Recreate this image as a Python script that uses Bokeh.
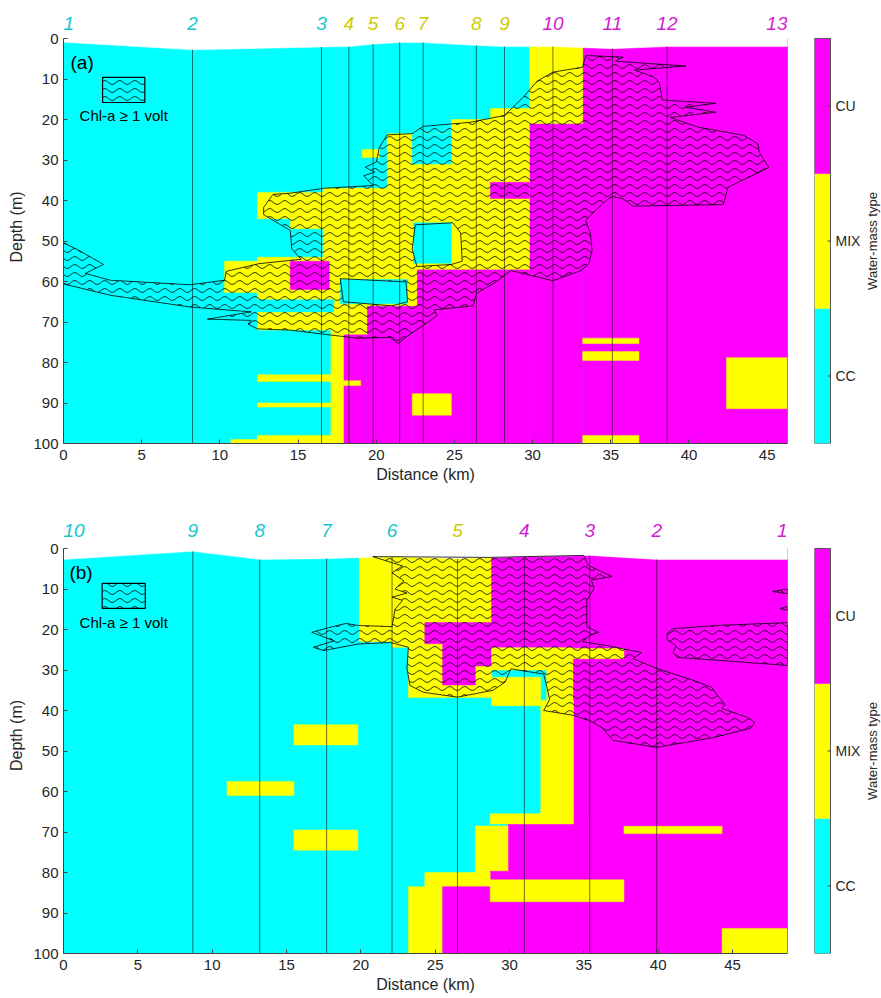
import numpy as np
from bokeh.plotting import figure
from bokeh.layouts import column, row
from bokeh.models import Range1d, FixedTicker, ColumnDataSource
from bokeh.core.properties import value
from bokeh.embed import file_html
from bokeh.resources import INLINE

FONT = "Liberation Sans"
TXT = "#262626"
WM_COLORS = ["#00FFFF", "#FFFF00", "#FF00FF"]       # CC, MIX, CU
WM_NAMES = ["CC", "MIX", "CU"]
LABEL_COLORS = ["#16C6CF", "#CFCB00", "#D21BD2"]

# ---------------- Panel (a) ----------------
A_XMAX = 46.3
A_STN_LAB = ["1", "2", "3", "4", "5", "6", "7", "8", "9", "10", "11", "12", "13"]
A_STN_KM = [0, 8.25, 16.5, 18.25, 19.8, 21.5, 23.0, 26.4, 28.2, 31.3, 35.1, 38.6, 46.3]
A_STN_TOP = [0.9, 2.8, 2.1, 2.0, 1.4, 1.0, 1.0, 1.7, 2.0, 2.0, 2.5, 2.0, 2.0]
A_STN_WM = [0, 0, 0, 1, 1, 1, 1, 1, 1, 2, 2, 2, 2]

# water-mass cells (distance km from/to, depth m from/to, type); later cells drawn on top
A_X0 = [0, 17.9, 19.4, 22.3, 29.8, 33.2, 29.8, 24.8, 27.3, 27.3, 20.7, 22.3, 22.4, 19.1, 14.5, 12.4,
        16.6, 10.3, 12.4, 12.4, 14.5, 17.9, 17.7, 17.3, 17.1, 12.4, 17.9, 12.4, 12.4, 10.7, 22.3,
        33.2, 33.2, 33.2, 42.4]
A_X1 = [46.3, 19.4, 22.3, 29.8, 33.2, 46.3, 33.2, 27.3, 29.8, 29.8, 24.8, 24.8, 24.8, 20.2, 16.6, 14.5,
        20.7, 12.4, 17.9, 17.3, 17.0, 22.6, 22.0, 19.4, 17.9, 17.1, 19.0, 17.1, 17.1, 12.4, 24.8,
        36.8, 36.8, 36.8, 46.3]
A_D0 = [0, 73, 66, 57, 21, 0, 0, 20, 17.3, 35.5, 23.5, 23.5, 45.5, 27.4, 38, 38,
        37, 55, 54, 64.5, 55, 57, 59.5, 66, 72, 83, 84.5, 90, 98, 99, 87.7,
        74, 77.3, 98, 78.8]
A_D1 = [100, 100, 100, 100, 100, 100, 21, 57, 57, 39.5, 57, 31, 55.5, 29.4, 47, 44.5,
        57, 62.7, 72, 67.5, 62, 66, 65.5, 73, 100, 84.7, 85.7, 91, 100, 100, 93,
        75.3, 79.5, 100, 91.4]
A_WM = [0, 2, 2, 2, 2, 2, 1, 1, 1, 2, 1, 0, 0, 1, 1, 1,
        1, 1, 1, 0, 2, 1, 0, 1, 1, 1, 1, 1, 1, 1, 1,
        1, 1, 1, 1]

# Chl-a >= 1 volt contour (outer ring + holes)
A_CHL_KM = [0, 1.07, 2.56, 1.4, 3.0, 8.1, 10.3, 10.4, 12.5, 15.2,
            14.6, 14.5, 12.8, 12.8, 13.4, 14.5, 16.6, 19.8, 19.2, 19.9, 19.3, 20.0, 20.2, 20.7, 22.3,
            23.0, 26.0, 28.2, 29.4, 30.3, 31.3, 33.2,
            33.4, 35.8, 35.3, 39.8, 36.5, 37.7, 38.1, 38.3, 41.7, 39.8, 41.7, 38.8, 40.6, 43.5, 44.4,
            44.5, 45.1, 44.7, 42.5, 42.2, 36.4, 35.8, 35.1, 34.7, 33.8, 33.4, 33.7, 33.8, 33.6, 33.1,
            31.3, 28.6, 27.7, 26.4, 26.2, 23.7, 23.9, 22.0, 21.4, 20.9, 18.8, 16.6, 14.5, 12.4, 11.8,
            12.0, 9.2, 12.0, 8.1, 3.0, 0]
A_CHL_DEPTH = [50.4, 52.5, 55.8, 58.0, 59.7, 60.8, 59.7, 57.5, 55.6, 54.5,
               52.0, 47.4, 43.5, 41.7, 38.5, 38.2, 37.0, 36.3, 33.9, 33.0, 31.8, 30.5, 26.9, 23.8, 23.5,
               21.7, 20.7, 19.0, 14.5, 10.5, 8.3, 7.1,
               4.2, 4.6, 5.6, 6.8, 7.8, 9.4, 10.8, 15.2, 16.0, 17.0, 18.2, 19.5, 21.9, 23.9, 26.0,
               28.1, 31.8, 32.6, 36.7, 41.0, 41.4, 39.6, 39.0, 40.0, 43.3, 45.0, 48.2, 52.3, 55.6, 57.3,
               59.8, 57.3, 60.0, 63.0, 66.0, 67.0, 68.4, 73.5, 75.3, 73.8, 74.0, 73.0, 72.0, 71.7, 70.5,
               69.6, 69.3, 67.5, 66.3, 63.4, 60.6]
A_HOLE1_KM = [17.7, 21.9, 22.0, 21.0, 17.9]
A_HOLE1_DEPTH = [59.3, 60.1, 65.0, 66.0, 65.0]
A_HOLE2_KM = [22.5, 24.9, 25.4, 25.5, 24.8, 22.6, 22.3]
A_HOLE2_DEPTH = [46.0, 45.5, 48.0, 55.0, 55.8, 56.3, 52.0]

# ---------------- Panel (b) ----------------
B_XMAX = 48.7
B_STN_LAB = ["10", "9", "8", "7", "6", "5", "4", "3", "2", "1"]
B_STN_KM = [0, 8.7, 13.2, 17.7, 22.1, 26.5, 31.0, 35.4, 39.9, 48.7]
B_STN_TOP = [2.7, 0.7, 2.7, 2.5, 2.0, 2.5, 2.0, 1.7, 2.7, 2.7]
B_STN_WM = [0, 0, 0, 0, 0, 1, 2, 2, 2, 2]

B_X0 = [0, 19.9, 22.1, 23.2, 28.8, 35.4, 24.3, 25.5, 25.5, 28.8, 32.5, 34.3, 34.3, 28.8, 32.1,
        29.9, 28.7, 27.7, 28.7, 24.3, 23.2, 25.5, 28.7,
        15.5, 11.0, 15.5, 37.7, 44.3]
B_X1 = [48.7, 22.1, 23.2, 28.8, 35.4, 48.7, 28.8, 28.8, 27.7, 32.5, 34.3, 35.4, 37.7, 32.1, 34.3,
        35.4, 34.3, 29.9, 29.9, 28.7, 25.5, 35.4, 37.7,
        19.8, 15.5, 19.8, 44.3, 48.7]
B_D0 = [0, 0, 0, 0, 0, 0, 18.3, 23.5, 29, 24.5, 24.5, 24.5, 24.7, 31.8, 37.5,
        66, 65.5, 68.5, 79.7, 80, 83.5, 83.5, 81.8,
        43.5, 57.5, 69.5, 68.6, 93.8]
B_D1 = [100, 23, 24.4, 36.8, 24.5, 100, 23.5, 29, 33.7, 30, 37.5, 100, 27.2, 38.8, 66,
        100, 68, 80, 82.5, 83.5, 100, 100, 87.2,
        48.5, 61, 74.5, 70.4, 100]
B_WM = [0, 1, 1, 1, 2, 2, 2, 2, 2, 1, 1, 2, 1, 1, 1,
        2, 1, 1, 2, 1, 1, 2, 1,
        1, 1, 1, 1, 1]

B_CHL1_KM = [16.7, 17.8, 19.0, 19.8, 22.1, 22.3, 22.8, 22.1, 23.1, 22.3, 22.9, 22.1, 22.8, 20.8,
             28.7, 35.0, 35.3, 36.9, 35.5, 35.7, 35.2, 35.2, 36.0, 35.4, 34.9, 36.6, 38.9, 38.3,
             39.9, 42.4, 43.6, 44.1, 44.5, 44.3, 46.0, 46.5, 46.2, 43.7, 39.9, 37.0, 36.2, 35.4,
             34.3, 32.3, 32.7, 32.5, 32.3, 30.9, 30.1, 29.7, 28.9, 26.5, 24.2, 23.3, 23.1, 23.2,
             22.0, 19.8, 17.5, 16.8, 18.2]
B_CHL1_DEPTH = [20.7, 19.6, 18.5, 19.0, 19.3, 15.0, 12.8, 12.0, 11.0, 10.0, 8.0, 6.0, 4.3, 2.0,
                2.2, 1.7, 4.2, 6.9, 7.8, 9.8, 12.8, 19.3, 20.7, 21.5, 23.0, 24.0, 25.7, 27.2,
                29.6, 32.6, 34.3, 36.8, 38.5, 39.5, 41.7, 43.0, 44.4, 46.7, 49.1, 47.4, 44.2, 42.5,
                41.2, 40.0, 37.3, 34.0, 31.0, 30.2, 29.7, 33.0, 35.0, 36.7, 35.5, 33.8, 29.5, 24.4,
                23.2, 23.6, 25.2, 24.4, 22.8]
B_CHL2_KM = [40.6, 41.0, 44.0, 48.7, 48.7, 44.4, 41.3, 41.0, 41.2, 40.6]
B_CHL2_DEPTH = [21.0, 19.8, 19.0, 18.3, 28.9, 27.7, 26.9, 25.7, 24.0, 22.5]
B_CHL3_KM = [47.7, 48.7, 48.7]
B_CHL3_DEPTH = [10.6, 10.0, 11.2]
B_CHL4_KM = [48.2, 48.7, 48.7]
B_CHL4_DEPTH = [14.8, 14.3, 15.3]

X_TICKS = [0, 5, 10, 15, 20, 25, 30, 35, 40, 45]
Y_TICKS = [0, 10, 20, 30, 40, 50, 60, 70, 80, 90, 100]

# layout geometry (pixels)
FRAME_LEFT, FRAME_W = 63, 724
PX_PER_M = 4.05
WAVE_GAP, WAVE_LEN, WAVE_AMP = 8.0, 15.0, 1.9   # hatch look, in screen pixels


def in_rings(px, py, rings):
    """even-odd point-in-polygon test over several rings (outer + holes)"""
    inside = np.zeros(px.shape, bool)
    for vx, vy in rings:
        vx = np.asarray(vx, float)
        vy = np.asarray(vy, float)
        n = len(vx)
        for i in range(n):
            j = i - 1
            xi, yi, xj, yj = vx[i], vy[i], vx[j], vy[j]
            if yi == yj:
                continue
            cond = (yi > py) != (yj > py)
            xint = (xj - xi) * (py - yi) / (yj - yi) + xi
            inside ^= cond & (px < xint)
    return inside


def wave_hatch(rings_list, xmax):
    """wavy hatch lines clipped to the given polygons (each a list of rings in km/depth)"""
    kx = FRAME_W / xmax
    ky = PX_PER_M
    xs_px = np.arange(0, FRAME_W + 0.5, 0.5)
    xs_out, ys_out = [], []
    for rings in rings_list:
        allx = np.concatenate([np.asarray(r[0], float) for r in rings])
        ally = np.concatenate([np.asarray(r[1], float) for r in rings])
        x_lo, x_hi = allx.min() * kx, allx.max() * kx
        y_lo, y_hi = ally.min() * ky, ally.max() * ky
        sel = xs_px[(xs_px >= x_lo - 1) & (xs_px <= x_hi + 1)]
        k0 = int(np.floor(y_lo / WAVE_GAP)) - 1
        k1 = int(np.ceil(y_hi / WAVE_GAP)) + 1
        for k in range(k0, k1 + 1):
            ypx = 4 + k * WAVE_GAP + WAVE_AMP * np.sin(2 * np.pi * sel / WAVE_LEN)
            xkm = sel / kx
            dep = ypx / ky
            m = in_rings(xkm, dep, rings)
            if not m.any():
                continue
            idx = np.flatnonzero(np.diff(np.concatenate([[0], m.astype(int), [0]])))
            for s, e in zip(idx[::2], idx[1::2]):
                if e - s >= 2:
                    xs_out.append(list(np.round(xkm[s:e], 4)))
                    ys_out.append(list(np.round(dep[s:e], 3)))
    return xs_out, ys_out


def style_axes(p):
    for ax in (p.xaxis[0], p.yaxis[0]):
        ax.major_tick_in = 4
        ax.major_tick_out = 0
        ax.minor_tick_in = 0
        ax.minor_tick_out = 0
        ax.axis_line_color = "#444444"
        ax.major_tick_line_color = "#444444"
        ax.major_label_text_font = FONT
        ax.major_label_text_font_size = "15px"
        ax.major_label_text_color = TXT
        ax.axis_label_text_font = FONT
        ax.axis_label_text_font_size = "16px"
        ax.axis_label_text_font_style = "normal"
        ax.axis_label_text_color = TXT
    p.xaxis.ticker = FixedTicker(ticks=X_TICKS)
    p.yaxis.ticker = FixedTicker(ticks=Y_TICKS)
    p.yaxis.bounds = (0, 100)
    p.xaxis.major_label_standoff = 6
    p.xaxis.axis_label_standoff = 3
    p.yaxis.major_label_standoff = 5
    p.yaxis.axis_label_standoff = 5
    p.xaxis.axis_label = "Distance (km)"
    p.yaxis.axis_label = "Depth (m)"
    p.xgrid.visible = False
    p.ygrid.visible = False
    p.outline_line_color = None


def make_panel(xmax, x0, x1, d0, d1, wm, stn_km, stn_top, stn_lab, stn_wm, chl_polys,
               leg_box, leg_txt, tag, lab_depth, height, top, frame_h, bottom):
    top_depth = -(frame_h / PX_PER_M - 100.0)   # frame reaches above the surface for station numbers
    p = figure(width=797, height=height, x_range=Range1d(0, xmax), y_range=Range1d(100, top_depth),
               min_border_left=FRAME_LEFT, min_border_right=10, min_border_top=top,
               min_border_bottom=bottom, toolbar_location=None, tools="", output_backend="svg")
    style_axes(p)
    cols = [WM_COLORS[i] for i in wm]
    src = ColumnDataSource(dict(left=x0, right=x1, top=d0, bottom=d1, color=cols))
    p.quad(left="left", right="right", top="top", bottom="bottom", source=src,
           fill_color="color", line_color="color", line_width=0.5)
    # white above sea surface
    p.patch(x=list(stn_km) + [xmax, 0], y=list(stn_top) + [top_depth - 1, top_depth - 1],
            fill_color="white", line_color="white", line_width=0.5)
    # station lines
    p.segment(x0=stn_km, y0=stn_top, x1=stn_km, y1=[100] * len(stn_km), line_color="black",
              line_width=0.7, line_alpha=0.8)
    # chlorophyll region: wavy hatch + outline
    lb = leg_box
    box_ring = [([lb[0], lb[1], lb[1], lb[0]], [lb[2], lb[2], lb[3], lb[3]])]
    hx, hy = wave_hatch(chl_polys + [box_ring], xmax)
    p.multi_line(xs=hx, ys=hy, line_color="black", line_width=0.9)
    mp_xs = [[[list(r[0]) for r in rings]] for rings in chl_polys]
    mp_ys = [[[list(r[1]) for r in rings]] for rings in chl_polys]
    p.multi_polygons(xs=mp_xs, ys=mp_ys, fill_color=None, line_color="black", line_width=0.8)
    # legend swatch
    p.quad(left=[lb[0]], right=[lb[1]], top=[lb[2]], bottom=[lb[3]],
           fill_color=None, line_color="black", line_width=1.2)
    p.text(x=[leg_txt[0]], y=[leg_txt[1]], text=["Chl-a \u2265 1 volt"], text_font=value(FONT),
           text_font_size="15px", text_color="black", text_align="center", text_baseline="middle")
    p.text(x=[tag[0]], y=[tag[1]], text=[tag[2]], text_font=value(FONT), text_font_size="19px",
           text_color="black", text_align="left", text_baseline="top")
    # station numbers (edge stations aligned inward so they stay inside the frame)
    n = len(stn_km)
    groups = {"left": [0], "center": list(range(1, n - 1)), "right": [n - 1]}
    for align, ids in groups.items():
        src_l = ColumnDataSource(dict(x=[stn_km[i] for i in ids], y=[lab_depth] * len(ids),
                                      text=[stn_lab[i] for i in ids],
                                      color=[LABEL_COLORS[stn_wm[i]] for i in ids]))
        p.text(x="x", y="y", text="text", source=src_l, text_color="color", text_align=align,
               text_baseline="middle", text_font=value(FONT), text_font_size="19px",
               text_font_style="italic")
    return p


def make_cbar(height, top, frame_h, bottom):
    # same frame as its panel; the bar covers the depth 0-100 part (bottom 405 px)
    y_end = 0.5 + 3.0 * frame_h / (100 * PX_PER_M)
    c = figure(width=84, height=height, x_range=Range1d(0, 67), y_range=Range1d(0.5, y_end),
               min_border_left=17, min_border_right=0, min_border_top=top, min_border_bottom=bottom,
               toolbar_location=None, tools="", output_backend="svg",
               x_axis_type=None, y_axis_type=None)
    c.xgrid.visible = False
    c.ygrid.visible = False
    c.outline_line_color = None
    lv = [1, 2, 3]
    c.quad(left=[0] * 3, right=[16] * 3, bottom=[v - 0.5 for v in lv], top=[v + 0.5 for v in lv],
           fill_color=WM_COLORS, line_color=WM_COLORS, line_width=0.5)
    c.quad(left=[0], right=[16], bottom=[0.5], top=[3.5], fill_color=None, line_color="#555555", line_width=1)
    c.segment(x0=[13] * 3, x1=[16] * 3, y0=lv, y1=lv, line_color="#444444", line_width=1)
    c.text(x=[21] * 3, y=lv, text=WM_NAMES, text_font=value(FONT), text_font_size="14px",
           text_color=TXT, text_align="left", text_baseline="middle")
    c.text(x=[58], y=[2], text=["Water-mass type"], angle=np.pi / 2, text_font=value(FONT),
           text_font_size="13px", text_color=TXT, text_align="center", text_baseline="middle")
    return c


A_POLYS = [[(A_CHL_KM, A_CHL_DEPTH), (A_HOLE1_KM, A_HOLE1_DEPTH), (A_HOLE2_KM, A_HOLE2_DEPTH)]]
B_POLYS = [[(B_CHL1_KM, B_CHL1_DEPTH)], [(B_CHL2_KM, B_CHL2_DEPTH)],
           [(B_CHL3_KM, B_CHL3_DEPTH)], [(B_CHL4_KM, B_CHL4_DEPTH)]]

# panel a: page y 0-497 (frame 10-443, depth 0 at 38); panel b: page y 497-998 (frame 517-953, depth 0 at 548)
H1, T1, F1, BT1 = 497, 10, 433, 54
H2, T2, F2, BT2 = 501, 20, 436, 45

p1 = make_panel(A_XMAX, A_X0, A_X1, A_D0, A_D1, A_WM, A_STN_KM, A_STN_TOP, A_STN_LAB, A_STN_WM,
                A_POLYS, (2.5, 5.2, 9.6, 15.8), (3.85, 19.0), (0.45, 3.4, "(a)"), -3.6,
                H1, T1, F1, BT1)
p2 = make_panel(B_XMAX, B_X0, B_X1, B_D0, B_D1, B_WM, B_STN_KM, B_STN_TOP, B_STN_LAB, B_STN_WM,
                B_POLYS, (2.6, 5.5, 8.6, 14.8), (4.05, 18.3), (0.4, 3.4, "(b)"), -4.4,
                H2, T2, F2, BT2)
c1 = make_cbar(H1, T1, F1, BT1)
c2 = make_cbar(H2, T2, F2, BT2)

layout = column(row(p1, c1), row(p2, c2))
open("out.html", "w").write(file_html(layout, INLINE, "Water-mass sections"))
